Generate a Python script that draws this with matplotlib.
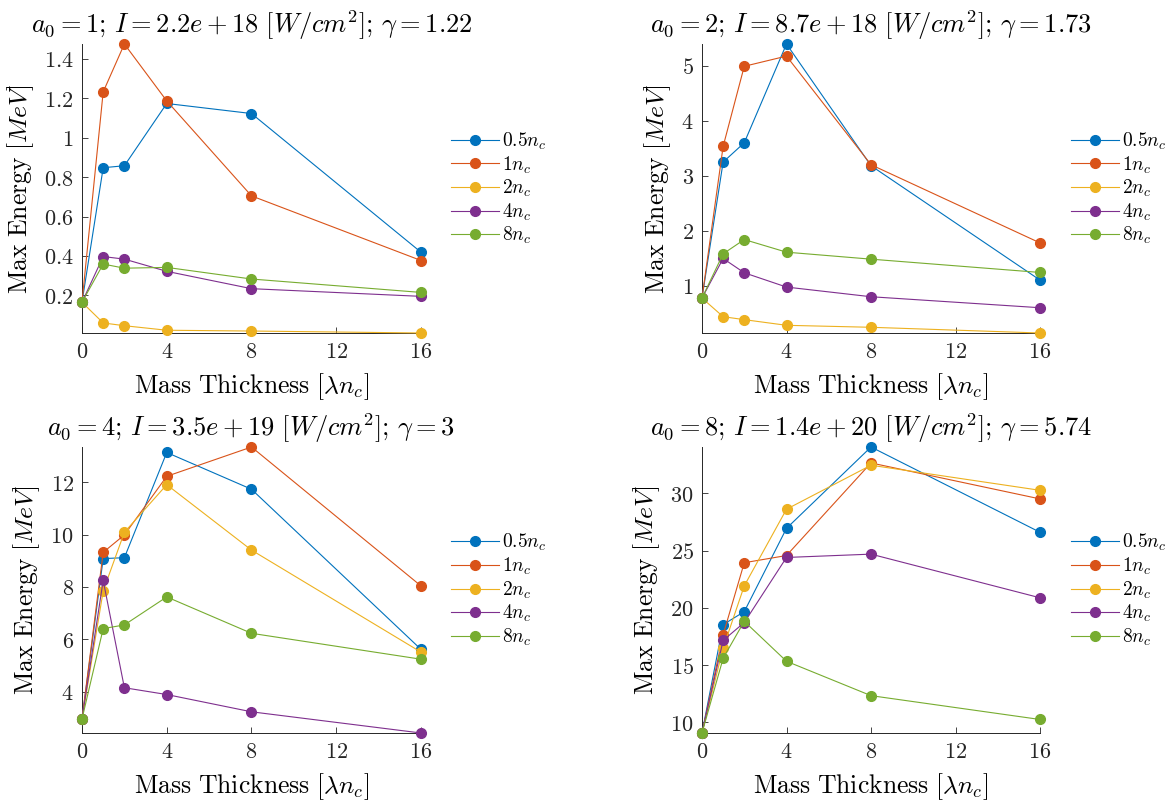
import matplotlib
matplotlib.use("Agg")
import matplotlib.pyplot as plt
from matplotlib.ticker import FixedLocator, FuncFormatter

plt.rcParams['mathtext.fontset'] = 'cm'
plt.rcParams['font.family'] = ['DejaVu Serif']

thickness = [0, 1, 2, 4, 8, 16]
series_labels = [r'$0.5n_c$', r'$1n_c$', r'$2n_c$', r'$4n_c$', r'$8n_c$']
colors = ['#0072BD', '#D95319', '#EDB120', '#7E2F8E', '#77AC30']

titles = [
    r'$a_0 = 1;\, I = 2.2e+18\ [W/cm^2];\, \gamma = 1.22$',
    r'$a_0 = 2;\, I = 8.7e+18\ [W/cm^2];\, \gamma = 1.73$',
    r'$a_0 = 4;\, I = 3.5e+19\ [W/cm^2];\, \gamma = 3$',
    r'$a_0 = 8;\, I = 1.4e+20\ [W/cm^2];\, \gamma = 5.74$',
]

# a0 = 1
a1_05 = [0.165, 0.848, 0.858, 1.174, 1.123, 0.419]
a1_1 = [0.165, 1.233, 1.476, 1.187, 0.705, 0.377]
a1_2 = [0.165, 0.060, 0.046, 0.023, 0.019, 0.009]
a1_4 = [0.165, 0.397, 0.384, 0.322, 0.234, 0.195]
a1_8 = [0.165, 0.359, 0.338, 0.342, 0.283, 0.215]

# a0 = 2
a2_05 = [0.776, 3.251, 3.602, 5.40, 3.185, 1.103]
a2_1 = [0.776, 3.536, 4.994, 5.18, 3.203, 1.78]
a2_2 = [0.776, 0.437, 0.383, 0.28, 0.244, 0.14]
a2_4 = [0.776, 1.496, 1.236, 0.976, 0.80, 0.60]
a2_8 = [0.776, 1.581, 1.841, 1.611, 1.484, 1.242]

# a0 = 4
a4_05 = [2.953, 9.085, 9.12, 13.14, 11.735, 5.615]
a4_1 = [2.953, 9.325, 9.99, 12.23, 13.35, 8.04]
a4_2 = [2.953, 7.85, 10.09, 11.91, 9.41, 5.51]
a4_4 = [2.953, 8.25, 4.15, 3.89, 3.23, 2.42]
a4_8 = [2.953, 6.41, 6.55, 7.62, 6.23, 5.24]

# a0 = 8
a8_05 = [9.08, 18.54, 19.67, 26.94, 34.04, 26.6]
a8_1 = [9.08, 17.65, 23.94, 24.57, 32.65, 29.51]
a8_2 = [9.08, 16.49, 21.92, 28.61, 32.45, 30.26]
a8_4 = [9.08, 17.16, 18.72, 24.40, 24.69, 20.88]
a8_8 = [9.08, 15.6, 18.83, 15.34, 12.34, 10.26]

panels = [
    [a1_05, a1_1, a1_2, a1_4, a1_8],
    [a2_05, a2_1, a2_2, a2_4, a2_8],
    [a4_05, a4_1, a4_2, a4_4, a4_8],
    [a8_05, a8_1, a8_2, a8_4, a8_8],
]
yticks = [
    [0.2, 0.4, 0.6, 0.8, 1.0, 1.2, 1.4],
    [1, 2, 3, 4, 5],
    [4, 6, 8, 10, 12],
    [10, 15, 20, 25, 30],
]
xticks = [0, 4, 8, 12, 16]

W, H = 1172, 801
fig = plt.figure(figsize=(W / 100, H / 100), dpi=100)
fig.patch.set_facecolor('white')

# axes boxes in pixels: left, right, top, bottom
boxes = [
    (82, 421, 44, 333),
    (702, 1040, 44, 333),
    (82, 421, 447, 733),
    (702, 1040, 447, 733),
]
legend_x_px = [451, 1071, 451, 1071]


def fmt(v, pos):
    return r'$%s$' % ('%g' % v)


for i, (box, series, yt) in enumerate(zip(boxes, panels, yticks)):
    l, r, t, b = box
    ax = fig.add_axes([l / W, (H - b) / H, (r - l) / W, (b - t) / H])
    for vals, c, lab in zip(series, colors, series_labels):
        ax.plot(thickness, vals, color=c, lw=0.8, marker='o', ms=7,
                mfc=c, mec=c, label=lab, clip_on=False, zorder=3)
    allv = [v for s in series for v in s]
    ax.set_xlim(0, 16)
    ax.set_ylim(min(allv), max(allv))
    ax.xaxis.set_major_locator(FixedLocator(xticks))
    ax.yaxis.set_major_locator(FixedLocator(yt))
    ax.xaxis.set_major_formatter(FuncFormatter(fmt))
    ax.yaxis.set_major_formatter(FuncFormatter(fmt))
    ax.tick_params(direction='in', length=4, width=0.6, labelsize=16,
                   color='#262626', labelcolor='#262626', pad=6)
    for side in ['top', 'right']:
        ax.spines[side].set_visible(False)
    for side in ['left', 'bottom']:
        ax.spines[side].set_linewidth(0.7)
        ax.spines[side].set_color('#262626')
    ax.set_title(titles[i], fontsize=19, pad=8)
    ax.set_xlabel(r'$\mathrm{Mass\ Thickness}\ [\lambda n_c]$', fontsize=18.5, labelpad=6)
    ax.set_ylabel(r'$\mathrm{Max\ Energy}\ [MeV]$', fontsize=18.5, labelpad=6)
    bx = (legend_x_px[i] - l) / (r - l)
    ax.legend(loc='center left', bbox_to_anchor=(bx, 0.5), frameon=False,
              fontsize=14, borderaxespad=0, borderpad=0, handlelength=2.45,
              handletextpad=0.15, labelspacing=0.12)

fig.savefig('out.png', dpi=100, facecolor='white')
